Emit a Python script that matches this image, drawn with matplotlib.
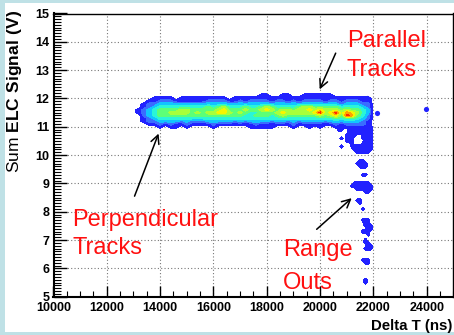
import numpy as np
import matplotlib
matplotlib.use("Agg")
import matplotlib.pyplot as plt
from matplotlib.patches import Rectangle

# ---------------- data ----------------
# 2D histogram of the main band: bin centres and level per bin
band_x = [13000 + 200 * i for i in range(47)]           # ns
band_y = [12.2, 12.1, 12.0, 11.9, 11.8, 11.7, 11.6, 11.5,
          11.4, 11.3, 11.2, 11.1, 11.0, 10.9, 10.8]     # V (top -> bottom)
# one string per x bin, one hex digit per y bin (top -> bottom)
band_columns = [
    "000000000000000", "000000110000000", "000011222110000", "000122333221000",
    "001123444321000", "001234555432100", "001234555431000", "001234565432100",
    "000134565431100", "001134665421000", "001134665432100", "001134555421000",
    "001134565421000", "001134555421000", "001235565431000", "001234565432100",
    "001235675431000", "001236775431000", "000134565431000", "001134555421000",
    "001234565431000", "001135654421000", "001234544431100", "001234545432100",
    "011235655431100", "011236755431100", "001135654421100", "001234565431000",
    "011234676431000", "011134665421000", "001234565432100", "001135665421000",
    "011236665431000", "011236765431100", "011235675431000", "011235796431100",
    "011135665421000", "011235676431000", "001235697532100", "001124565431100",
    "001234689532100", "001234578532100", "001234565432110", "001123444322110",
    "001122332211100", "000000000000000", "000000000000000",
]

# range-out tail: bin centres and level per bin
tail_x = [20600 + 100 * j for j in range(15)]             # ns
tail_y = [round(11.0 - 0.1 * k, 1) for k in range(57)]   # V (top -> bottom)
tail_rows = [
    "011111111111110",
    "011001111111110", "000001111111110", "000011110011110", "001011100011110",
    "000011100001110", "000000100011110", "001000111111110", "000000011111110",
    "000000001111100", "000000000000000",
    "000000000000000", "000000000110000", "000000001111000", "000000000111000",
    "000000000000000", "000000000000000", "000000000011000", "000000000000000",
    "000000000000000", "000000011111100",
    "000000111111110", "000000001111110", "000000000001100", "000000000000000",
    "000000000000000", "000000001100000", "000000000100000", "000000000000000",
    "000000000010000", "000000000000000",
    "000000000000000", "000000000000000", "000000000011100", "000000000001100",
    "000000000001110", "000000000000110", "000000000011100", "000000000000100",
    "000000000000000", "000000000001000",
    "000000000001100", "000000000000110", "000000000001110", "000000000000000",
    "000000000000000", "000000000000000", "000000000011100", "000000000001100",
    "000000000000000", "000000000000000",
    "000000000000000", "000000000000000", "000000000000000", "000000000001000",
    "000000000001000", "000000000000000",
]

# isolated entries
stray_x = [21750, 22150, 23960]
stray_y = [12.0, 11.5, 11.64]

x_ticks = [10000, 12000, 14000, 16000, 18000, 20000, 22000, 24000]
y_ticks = [5, 6, 7, 8, 9, 10, 11, 12, 13, 14, 15]

# ---------------- styling ----------------
plt.rcParams['font.family'] = ['Liberation Sans', 'DejaVu Sans']
plt.rcParams['mathtext.fontset'] = 'custom'
plt.rcParams['mathtext.rm'] = 'Liberation Sans'
plt.rcParams['mathtext.bf'] = 'Liberation Sans:bold'

level_colors = ['#2222ff', '#3a6cff', '#11c4ff', '#2af5d8', '#5cff78',
                '#a8ff3a', '#f6f600', '#ffa000', '#ff2a00']
levels = [0.4, 1.5, 2.5, 3.5, 4.5, 5.5, 6.5, 7.5, 8.5, 9.5]

W, H = 454, 335
fig = plt.figure(figsize=(W / 100, H / 100), dpi=100)
fig.patch.set_facecolor('#bfe1e6')
fig.add_artist(Rectangle((5 / W, 3 / H), (W - 5) / W, (H - 6) / H,
                         transform=fig.transFigure, facecolor='white',
                         edgecolor='none', zorder=-10))

ax = fig.add_axes([53.5 / W, 1 - 296.7 / H, 400 / W, (296.7 - 13.5) / H])
ax.set_facecolor('white')

# tail grid
tz = np.array([[int(c, 16) for c in row] for row in tail_rows], dtype=float)
ty = np.array(tail_y)
ax.contourf(np.array(tail_x), ty[::-1], tz[::-1], levels=levels,
            colors=level_colors, zorder=2)

# band grid
bz = np.array([[int(c, 16) for c in col] for col in band_columns], dtype=float).T
by = np.array(band_y)
ax.contourf(np.array(band_x), by[::-1], bz[::-1], levels=levels,
            colors=level_colors, zorder=3)

ax.scatter(stray_x, stray_y, s=14, color=level_colors[0], linewidths=0, zorder=4)

ax.set_xlim(10000, 25000)
ax.set_ylim(5, 15)
ax.set_xticks(x_ticks)
ax.set_yticks(y_ticks)
ax.set_xticklabels([str(v) for v in x_ticks])
ax.set_yticklabels([str(v) for v in y_ticks])
ax.set_xticks(np.arange(10000, 25001, 500), minor=True)
ax.set_yticks(np.arange(5, 15.01, 0.1), minor=True)
for lab in ax.get_xticklabels() + ax.get_yticklabels():
    lab.set_fontweight('bold')
    lab.set_fontsize(9)
ax.tick_params(axis='both', which='both', direction='in', top=False, right=False,
               colors='black')
ax.tick_params(axis='x', which='major', length=8, width=1, pad=4)
ax.tick_params(axis='x', which='minor', length=4, width=0.8)
ax.tick_params(axis='y', which='major', length=9, width=1, pad=3)
ax.tick_params(axis='y', which='minor', length=5, width=0.8)
ax.grid(which='major', color='#777777', linestyle=(0, (1, 2)), linewidth=0.8, zorder=1)
ax.set_axisbelow(True)
for s in ['left', 'bottom']:
    ax.spines[s].set_linewidth(1.5)
for s in ['top', 'right']:
    ax.spines[s].set_linewidth(1.0)

# axis titles
fig.text(15 / W, 1 - 91 / H, r"Sum $\mathbf{ELC\ Signal\ (V)}$", rotation=90,
         ha='center', va='center', fontsize=12.5)
fig.text(452 / W, 1 - 330 / H, "Delta T (ns)", ha='right', va='baseline',
         fontsize=10.8, fontweight='bold')

# annotations
red = '#ff1010'
fs = 17
ax.text(20994, 13.81, "Parallel", color=red, fontsize=fs, va='baseline')
ax.text(20994, 12.78, "Tracks", color=red, fontsize=fs, va='baseline')
ax.text(10713, 7.49, "Perpendicular", color=red, fontsize=fs, va='baseline')
ax.text(10713, 6.50, "Tracks", color=red, fontsize=fs, va='baseline')
ax.text(18593, 6.42, "Range", color=red, fontsize=fs, va='baseline')
ax.text(18593, 5.28, "Outs", color=red, fontsize=fs, va='baseline')

arrow = dict(arrowstyle='->,head_length=0.6,head_width=0.3', lw=1.1, color='black',
             shrinkA=0, shrinkB=0)
ax.annotate('', xy=(19981, 12.32), xytext=(20582, 13.60), arrowprops=arrow)
ax.annotate('', xy=(13940, 10.76), xytext=(13039, 8.55), arrowprops=arrow)
ax.annotate('', xy=(21182, 8.48), xytext=(19869, 7.38), arrowprops=arrow)

fig.savefig('out.png', dpi=100, facecolor=fig.get_facecolor())
